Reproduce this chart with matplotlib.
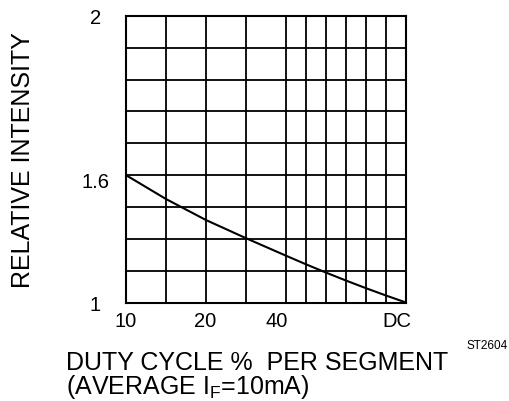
import matplotlib
matplotlib.use("Agg")
import matplotlib.pyplot as plt

plt.rcParams['font.family'] = ['Liberation Sans', 'DejaVu Sans']
plt.rcParams['mathtext.fontset'] = 'custom'
plt.rcParams['mathtext.rm'] = 'Liberation Sans'

# grid positions (chart grid units)
x_grid = [0, 1, 2, 3, 4, 4.5, 5, 5.5, 6, 6.5, 7]
y_grid = [0, 1, 2, 3, 4, 5, 6, 7, 8, 9]

# x labels and where they sit along the grid
x_labels = ['10', '20', '40', 'DC']
x_label_pos = [0, 1.98, 3.77, 6.77]

# y labels
y_labels = ['1', '1.6', '2']
y_label_pos = [0, 3.85, 9]

# curve, in grid units
curve_x = [0, 1, 2, 3, 4, 4.5, 5, 5.5, 6, 6.5, 7]
curve_y = [4.0, 3.25, 2.59, 2.02, 1.47, 1.2, 0.94, 0.69, 0.45, 0.22, 0.0]

fig = plt.figure(figsize=(5.1, 4.02), dpi=100)
ax = fig.add_axes([0.247, 0.245, 0.549, 0.713])

# grid lines
for gx in x_grid:
    ax.axvline(gx, color='black', lw=1.3, zorder=1)
for gy in y_grid:
    ax.axhline(gy, color='black', lw=1.3, zorder=1)

ax.plot(curve_x, curve_y, color='black', lw=1.5, zorder=2)

ax.set_xlim(0, 7)
ax.set_ylim(0, 9)

ax.set_xticks(x_label_pos)
ax.set_xticklabels(x_labels, fontsize=14.5)
ax.set_yticks(y_label_pos)
ax.set_yticklabels(y_labels, fontsize=14.5, ha='center')
ax.tick_params(axis='x', length=0, pad=6)
ax.tick_params(axis='y', length=0, pad=22)

for s in ax.spines.values():
    s.set_linewidth(1.5)

fig.text(23 / 510, 1 - 160 / 402, 'RELATIVE INTENSITY', rotation=90,
         fontsize=18, ha='center', va='center')

fig.text(66 / 510, 1 - 351 / 402,
         'DUTY CYCLE %  PER SEGMENT\n(AVERAGE I$_\\mathregular{F}$=10mA)',
         fontsize=18, ha='left', va='top', linespacing=0.92)
fig.text(487 / 510, 1 - 346 / 402, 'ST2604', fontsize=8.5,
         ha='center', va='center')

fig.savefig('out.png', dpi=100)
